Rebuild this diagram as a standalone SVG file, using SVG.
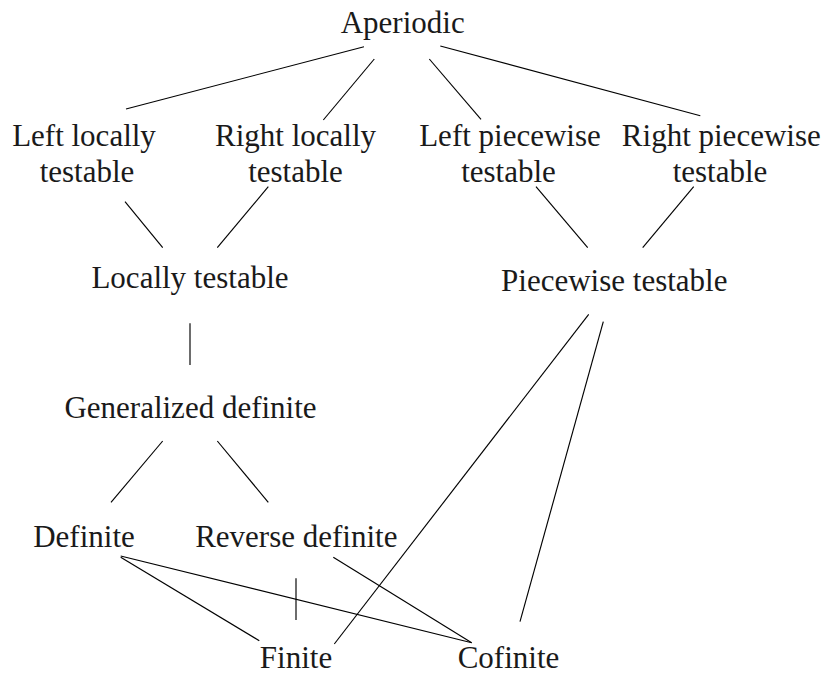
<svg xmlns="http://www.w3.org/2000/svg" width="822" height="675" viewBox="0 0 822 675">
<style>
text{font-family:"Liberation Serif","Times New Roman",serif;font-size:31px;fill:#1a1a1a;text-anchor:middle}
.e line{stroke:#000;stroke-width:1.15;fill:none}
</style>
<rect width="822" height="675" fill="#fff"/>
<g id="edges" class="e">
<line x1="364" y1="46.7" x2="126" y2="109"/>
<line x1="374.3" y1="59" x2="323.3" y2="120"/>
<line x1="429.3" y1="59" x2="481" y2="119.3"/>
<line x1="440.3" y1="46" x2="700.3" y2="115.7"/>
<line x1="125" y1="201.7" x2="162.7" y2="247.7"/>
<line x1="268.3" y1="186.7" x2="217.3" y2="247.7"/>
<line x1="536" y1="186.7" x2="587.7" y2="247.7"/>
<line x1="693.7" y1="186.7" x2="642.7" y2="247.7"/>
<line x1="190" y1="323.3" x2="190" y2="365"/>
<line x1="162.7" y1="441" x2="111" y2="502.3"/>
<line x1="217.3" y1="441" x2="268.3" y2="502.3"/>
<line x1="588.7" y1="314.3" x2="334.3" y2="644"/>
<line x1="603.3" y1="321.7" x2="520" y2="621.7"/>
<line x1="120.7" y1="556" x2="471.7" y2="642.7"/>
<line x1="120.7" y1="557.3" x2="259.3" y2="640.7"/>
<line x1="296" y1="578.3" x2="296" y2="620"/>
<line x1="333.3" y1="557.3" x2="471.7" y2="642.7"/>
</g>
<g id="aperiodic"><text x="402.7" y="33.3">Aperiodic</text></g>
<g id="left-locally"><text x="84" y="145.7">Left locally</text><text x="87" y="181.7">testable</text></g>
<g id="right-locally"><text x="295.5" y="145.7">Right locally</text><text x="295.5" y="181.7">testable</text></g>
<g id="left-piecewise"><text x="510" y="145.7">Left piecewise</text><text x="508.5" y="181.7">testable</text></g>
<g id="right-piecewise"><text x="721.3" y="145.7">Right piecewise</text><text x="720" y="181.7">testable</text></g>
<g id="locally-testable"><text x="190" y="288.3">Locally testable</text></g>
<g id="piecewise-testable"><text x="614.3" y="290.7">Piecewise testable</text></g>
<g id="generalized-definite"><text x="190.5" y="417.7">Generalized definite</text></g>
<g id="definite"><text x="84" y="546.7">Definite</text></g>
<g id="reverse-definite"><text x="296.3" y="546.7">Reverse definite</text></g>
<g id="finite"><text x="296" y="668.3">Finite</text></g>
<g id="cofinite"><text x="508.5" y="668.3">Cofinite</text></g>
</svg>
